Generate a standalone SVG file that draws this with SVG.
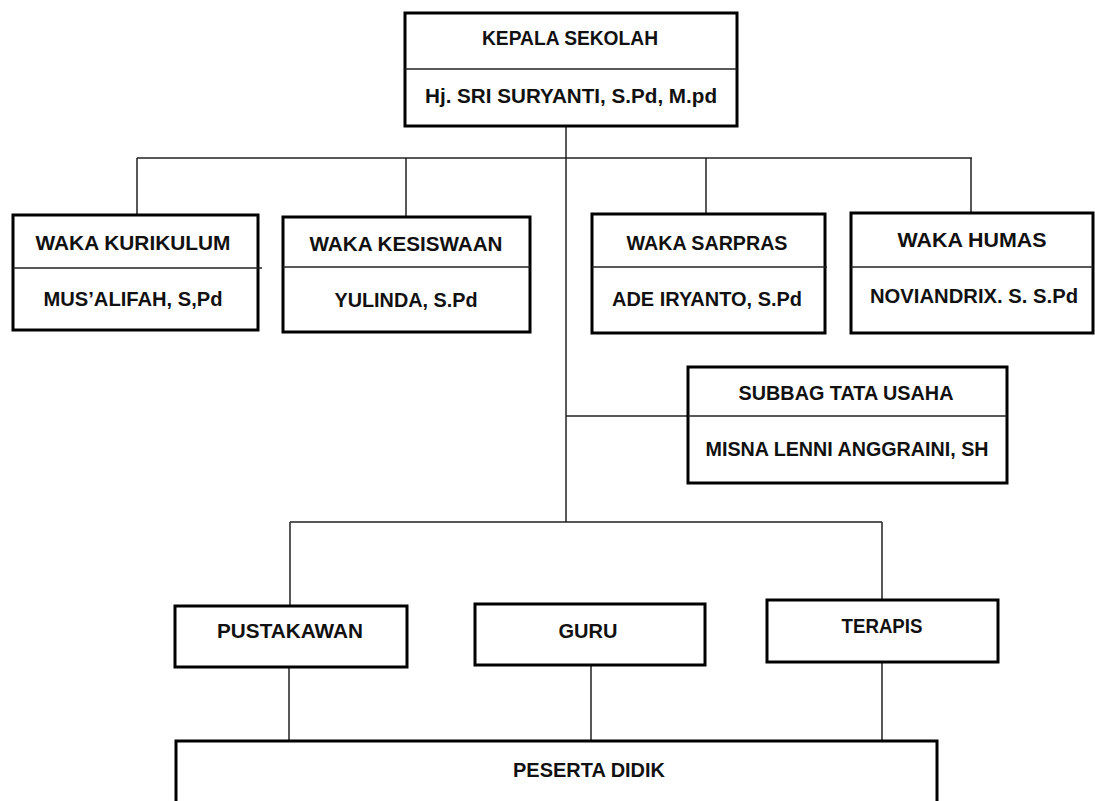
<svg xmlns="http://www.w3.org/2000/svg" width="1095" height="801" viewBox="0 0 1095 801">
<style>
.box{fill:#fff;stroke:#000;stroke-width:3}
.div{stroke:#222;stroke-width:1.5}
.con{fill:none;stroke:#222;stroke-width:1.5}
text{font-family:"Liberation Sans",Arial,sans-serif;font-weight:bold;font-size:20px;fill:#111;text-anchor:middle}
</style>
<rect width="1095" height="801" fill="#fff"/>
<g id="connectors">
<path class="con" d="M566 126V522"/>
<path class="con" d="M137 158H972"/>
<path class="con" d="M137 158V215M406 158V217M706 158V214M971 158V213"/>
<path class="con" d="M566 416H688"/>
<path class="con" d="M290 522H882M290 522V606M882 522V600"/>
<path class="con" d="M289 667V741M591 665V741M882 662V741"/>
</g>
<g id="kepala">
<rect class="box" x="405" y="13" width="332" height="113"/>
<line class="div" x1="405" y1="69" x2="737" y2="69"/>
<text x="570" y="45" font-size="19" textLength="176" lengthAdjust="spacingAndGlyphs">KEPALA SEKOLAH</text>
<text x="571" y="103" font-size="19" textLength="292" lengthAdjust="spacingAndGlyphs">Hj. SRI SURYANTI, S.Pd, M.pd</text>
</g>
<g id="kurikulum">
<rect class="box" x="13" y="215" width="245" height="115"/>
<line class="div" x1="13" y1="268" x2="262" y2="268"/>
<text x="133" y="250" textLength="195" lengthAdjust="spacingAndGlyphs">WAKA KURIKULUM</text>
<text x="133" y="306" textLength="179" lengthAdjust="spacingAndGlyphs">MUS’ALIFAH, S,Pd</text>
</g>
<g id="kesiswaan">
<rect class="box" x="283" y="217" width="247" height="115"/>
<line class="div" x1="283" y1="267" x2="530" y2="267"/>
<text x="406" y="251" textLength="193" lengthAdjust="spacingAndGlyphs">WAKA KESISWAAN</text>
<text x="406" y="307" textLength="143" lengthAdjust="spacingAndGlyphs">YULINDA, S.Pd</text>
</g>
<g id="sarpras">
<rect class="box" x="592" y="214" width="233" height="119"/>
<line class="div" x1="592" y1="267" x2="827" y2="267"/>
<text x="707" y="250" textLength="161" lengthAdjust="spacingAndGlyphs">WAKA SARPRAS</text>
<text x="707" y="306" textLength="190" lengthAdjust="spacingAndGlyphs">ADE IRYANTO, S.Pd</text>
</g>
<g id="humas">
<rect class="box" x="851" y="213" width="242" height="120"/>
<line class="div" x1="851" y1="267" x2="1093" y2="267"/>
<text x="972" y="247" textLength="149" lengthAdjust="spacingAndGlyphs">WAKA HUMAS</text>
<text x="974" y="303" textLength="208" lengthAdjust="spacingAndGlyphs">NOVIANDRIX. S. S.Pd</text>
</g>
<g id="tatausaha">
<rect class="box" x="688" y="367" width="319" height="116"/>
<line class="div" x1="688" y1="416" x2="1007" y2="416"/>
<text x="846" y="400" textLength="215" lengthAdjust="spacingAndGlyphs">SUBBAG TATA USAHA</text>
<text x="847" y="456" textLength="283" lengthAdjust="spacingAndGlyphs">MISNA LENNI ANGGRAINI, SH</text>
</g>
<g id="pustakawan">
<rect class="box" x="175" y="606" width="232" height="61"/>
<text x="290" y="638" textLength="146" lengthAdjust="spacingAndGlyphs">PUSTAKAWAN</text>
</g>
<g id="guru">
<rect class="box" x="475" y="604" width="230" height="61"/>
<text x="588" y="638" textLength="59" lengthAdjust="spacingAndGlyphs">GURU</text>
</g>
<g id="terapis">
<rect class="box" x="767" y="600" width="231" height="62"/>
<text x="882" y="633" textLength="81" lengthAdjust="spacingAndGlyphs">TERAPIS</text>
</g>
<g id="peserta">
<rect class="box" x="176" y="741" width="761" height="70"/>
<text x="589" y="777" textLength="152" lengthAdjust="spacingAndGlyphs">PESERTA DIDIK</text>
</g>
</svg>
